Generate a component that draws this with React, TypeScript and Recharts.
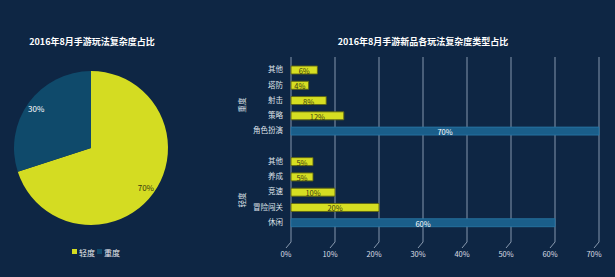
import React from 'react';
import { PieChart, Pie, Cell, BarChart, Bar, XAxis, YAxis, CartesianGrid, LabelList } from 'recharts';

const pieNames = ['轻度', '重度'];
const pieValues = [70, 30];
const pieColors = ['#d4dc22', '#0f4a6b'];

const heavyCats = ['其他', '塔防', '射击', '策略', '角色扮演'];
const heavyVals = [6, 4, 8, 12, 70];
const lightCats = ['其他', '养成', '竞速', '冒险闯关', '休闲'];
const lightVals = [5, 5, 10, 20, 60];
const xTicks = [0, 10, 20, 30, 40, 50, 60, 70];

const leftTitle = '2016年8月手游玩法复杂度占比';
const rightTitle = '2016年8月手游新品各玩法复杂度类型占比';
const groupNames = ['重度', '轻度'];

const BG = '#0e2644';
const FONT = '"Noto Sans CJK SC", "Noto Sans", sans-serif';
const YELLOW = '#d6de22';
const BLUE = '#1a5e8a';

const pieData = pieNames.map((n, i) => ({ name: n, value: pieValues[i] }));

type Row = { key: string; label: string; small: number | null; big: number | null };
const barData: Row[] = [];
const pushGroup = (cats: string[], vals: number[]) =>
  cats.forEach((c, i) => {
    const isBig = i === cats.length - 1;
    barData.push({ key: String(barData.length), label: c, small: isBig ? null : vals[i], big: isBig ? vals[i] : null });
  });
pushGroup(heavyCats, heavyVals);
barData.push({ key: String(barData.length), label: '', small: null, big: null });
pushGroup(lightCats, lightVals);

const RAD = Math.PI / 180;
const pieLabel = (p: any) => {
  const r = p.outerRadius * 0.88;
  const x = p.cx + r * Math.cos(-p.midAngle * RAD);
  const y = p.cy + r * Math.sin(-p.midAngle * RAD);
  return (
    <text x={x} y={y} textAnchor="middle" dominantBaseline="central" fontSize={8} fontFamily={FONT}
      fill={p.index === 0 ? '#3a3a10' : '#ffffff'}>
      {`${p.value}%`}
    </text>
  );
};

const XTick = (p: any) => {
  const { x, y, payload } = p;
  return (
    <g>
      <line x1={x} y1={y - 8} x2={x - 5} y2={y - 2} stroke="#8a9bb0" strokeWidth={1} />
      <text x={x - 5} y={y + 7} textAnchor="middle" fontSize={7.5} fontFamily={FONT} fill="#d8dde5">
        {`${payload.value}%`}
      </text>
    </g>
  );
};

const makeLabel = (color: string) => (p: any) => {
  const { x, y, width, height, value } = p;
  if (value == null) return null;
  return (
    <text x={x + width / 2} y={y + height / 2 + 0.5} textAnchor="middle" dominantBaseline="central"
      fontSize={7.5} fontFamily={FONT} fill={color}>
      {`${value}%`}
    </text>
  );
};

export default function App() {
  return (
    <div style={{ position: 'absolute', left: 0, top: 0, width: 615, height: 277, background: BG, overflow: 'hidden', fontFamily: FONT }}>
      <div style={{ position: 'absolute', left: 0, top: 0 }}>
        <PieChart width={200} height={277}>
          <text x={92} y={41} textAnchor="middle" dominantBaseline="central" fontSize={9} fontWeight="bold" fill="#ffffff" fontFamily={FONT}>
            {leftTitle}
          </text>
          <Pie data={pieData} dataKey="value" nameKey="name" cx={86} cy={143} outerRadius={77} startAngle={90} endAngle={-270}
            stroke="none" isAnimationActive={false} label={pieLabel} labelLine={false}>
            {pieData.map((d, i) => (
              <Cell key={d.name} fill={pieColors[i]} />
            ))}
          </Pie>
          {pieData.map((d, i) => (
            <g key={d.name}>
              <rect x={72 + i * 25} y={249} width={5} height={5} fill={pieColors[i]} />
              <text x={79 + i * 25} y={252} dominantBaseline="central" fontSize={8} fill="#e6e9ee" fontFamily={FONT}>
                {d.name}
              </text>
            </g>
          ))}
        </PieChart>
      </div>
      <div style={{ position: 'absolute', left: 220, top: 0 }}>
        <BarChart width={395} height={277} data={barData} layout="vertical"
          margin={{ top: 57, right: 16, bottom: 10, left: 11 }} barSize={8}>
          <text x={203} y={41} textAnchor="middle" dominantBaseline="central" fontSize={9} fontWeight="bold" fill="#ffffff" fontFamily={FONT}>
            {rightTitle}
          </text>
          <CartesianGrid horizontal={false} vertical={true} stroke="#8496ad" strokeWidth={1} />
          <XAxis type="number" domain={[0, 70]} ticks={xTicks} axisLine={false} tickLine={false} height={25}
            tick={<XTick />} interval={0} />
          <YAxis type="category" dataKey="key" width={60} axisLine={false} tickLine={false} tickSize={0} tickMargin={8}
            padding={{ top: 5, bottom: 12 }} interval={0}
            tickFormatter={(v: any) => barData[Number(v)]?.label ?? ''}
            tick={{ fontSize: 7.5, fill: '#dfe3ea', fontFamily: FONT }} />
          <Bar dataKey="small" stackId="s" fill={YELLOW} stroke="#5d6412" strokeWidth={0.9} isAnimationActive={false}>
            <LabelList dataKey="small" content={makeLabel('#3a3a10')} />
          </Bar>
          <Bar dataKey="big" stackId="s" fill={BLUE} stroke="#2a79a8" strokeWidth={0.8} isAnimationActive={false}>
            <LabelList dataKey="big" content={makeLabel('#ffffff')} />
          </Bar>
          <text transform="translate(21,105) rotate(-90)" textAnchor="middle" dominantBaseline="central" fontSize={7.5} fill="#dfe3ea" fontFamily={FONT}>
            {groupNames[0]}
          </text>
          <text transform="translate(21,200) rotate(-90)" textAnchor="middle" dominantBaseline="central" fontSize={7.5} fill="#dfe3ea" fontFamily={FONT}>
            {groupNames[1]}
          </text>
        </BarChart>
      </div>
    </div>
  );
}
